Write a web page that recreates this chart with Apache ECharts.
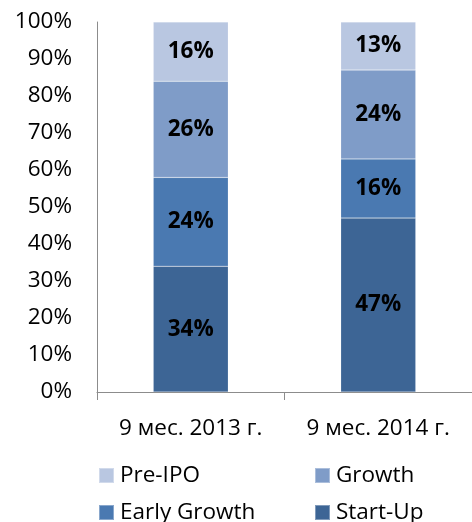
<!DOCTYPE html>
<html><head><meta charset="utf-8">
<script src="https://cdn.jsdelivr.net/npm/echarts@6/dist/echarts.min.js"></script>
<style>html,body{margin:0;padding:0;background:#fff}#c{width:472px;height:522px}</style>
</head><body><div id="c"></div>
<script>
var categories = ['9 мес. 2013 г.', '9 мес. 2014 г.'];
var startUp = [34, 47];
var earlyGrowth = [24, 16];
var growth = [26, 24];
var preIPO = [16, 13];
var yTicks = [0, 10, 20, 30, 40, 50, 60, 70, 80, 90, 100];
var FONT = 'Open Sans';
var FS = 22.5;
var colors = {pre: '#B9C7E1', growth: '#7F9CC8', early: '#4A79B1', start: '#3D6595'};
function ser(name, data, color) {
  return {
    name: name, type: 'bar', stack: 'a', data: data, barWidth: '40%',
    itemStyle: {color: color, borderColor: 'rgba(255,255,255,0.35)', borderWidth: 0.5},
    label: {show: true, position: 'inside', formatter: '{c}%', color: '#000', fontWeight: 'bold',
      fontSize: 22.5, fontFamily: FONT}
  };
}
function leg(name, left, top) {
  return {data: [name], left: left, top: top, itemWidth: 15, itemHeight: 15, itemGap: 0,
    icon: 'rect', textStyle: {fontSize: FS, fontFamily: FONT, color: '#000', padding: [0, 0, 0, 1]}};
}
var chart = echarts.init(document.getElementById('c'));
chart.setOption({
  animation: false,
  grid: {left: 97, right: -5, top: 22, bottom: 130, containLabel: false},
  legend: [leg('Pre-IPO', 93, 459), leg('Growth', 309, 459), leg('Early Growth', 93, 496), leg('Start-Up', 309, 496)],
  xAxis: {type: 'category', data: categories,
    axisLine: {lineStyle: {color: '#8c8c8c', width: 1}},
    axisTick: {show: true, length: 8, lineStyle: {color: '#8c8c8c'}},
    axisLabel: {color: '#000', fontSize: FS, fontFamily: FONT, margin: 25}},
  yAxis: {type: 'value', min: 0, max: 100, interval: 10,
    axisLine: {show: true, lineStyle: {color: '#8c8c8c'}},
    axisTick: {show: false}, splitLine: {show: false},
    axisLabel: {color: '#000', fontSize: FS, fontFamily: FONT, margin: 25, formatter: '{value}%'}},
  series: [
    ser('Start-Up', startUp, colors.start),
    ser('Early Growth', earlyGrowth, colors.early),
    ser('Growth', growth, colors.growth),
    ser('Pre-IPO', preIPO, colors.pre)
  ]
});
</script></body></html>
